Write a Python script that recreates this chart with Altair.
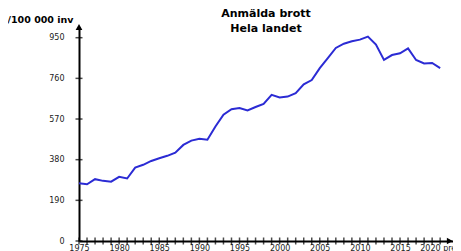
import altair as alt
import pandas as pd

years = list(range(1975, 2021))
values = [270, 265, 289, 281, 277, 300, 292, 343, 356, 374,
          387, 398, 413, 449, 469, 478, 473, 535, 590, 616,
          621, 610, 626, 641, 683, 671, 675, 691, 732, 752,
          808, 855, 902, 922, 933, 941, 955, 918, 846, 869,
          877, 900, 846, 830, 832, 808]
y_tick_values = [0, 190, 380, 570, 760, 950]
x_label_values = [1975, 1980, 1985, 1990, 1995, 2000, 2005, 2010, 2015, 2020]
x_tick_values = list(range(1975, 2021))
title_lines = ["Anmälda brott", "Hela landet"]
y_title = "/100 000 inv"
last_label = "2020 prel."

X_DOMAIN = [1975, 2021.6]
ARROW_X = 2021.2
Y_DOMAIN = [0, 1000]
FONT = "DejaVu Sans"

df = pd.DataFrame({"year": years, "value": values})
xt = pd.DataFrame({"year": x_tick_values, "value": [Y_DOMAIN[0]] * len(x_tick_values)})
yt = pd.DataFrame({"year": [X_DOMAIN[0]] * len(y_tick_values), "value": y_tick_values})
ax_df = pd.DataFrame({"year": [ARROW_X], "value": [Y_DOMAIN[0]]})
ay_df = pd.DataFrame({"year": [X_DOMAIN[0]], "value": [Y_DOMAIN[1]]})

xscale = alt.Scale(domain=X_DOMAIN, nice=False, zero=False)
yscale = alt.Scale(domain=Y_DOMAIN, nice=False)

xaxis = alt.Axis(
    values=x_label_values, ticks=False, domain=True, domainColor="black",
    domainWidth=2, grid=False, labelFontSize=8, labelFont=FONT, format="d",
    labelColor="#222", labelPadding=3, title=None, labelFlush=False,
    labelExpr=f"datum.value == 2020 ? '{last_label}' : datum.label",
    labelOverlap=False)
yaxis = alt.Axis(
    values=y_tick_values, ticks=False, domain=True, domainColor="black",
    domainWidth=2, grid=False, labelFontSize=8, labelFont=FONT,
    labelColor="#222", labelPadding=15, title=y_title, titleAngle=0,
    titleFont=FONT, titleFontSize=9.5, titleFontWeight="bold",
    titleAlign="right", titleBaseline="middle", titleX=-6, titleY=-8,
    titleColor="black")


def enc(ch):
    return ch.encode(
        x=alt.X("year:Q", scale=xscale, axis=xaxis),
        y=alt.Y("value:Q", scale=yscale, axis=yaxis),
    )


line = enc(alt.Chart(df).mark_line(color="#2b2bd4", strokeWidth=2))
xticks = enc(alt.Chart(xt).mark_tick(orient="vertical", size=7,
                                     thickness=1.5, color="black"))
yticks = enc(alt.Chart(yt).mark_tick(orient="horizontal", size=7,
                                     thickness=1.5, color="black"))
arrow_x = enc(alt.Chart(ax_df).mark_point(shape="triangle-right", filled=True,
                                          color="black", size=45, opacity=1))
arrow_y = enc(alt.Chart(ay_df).mark_point(shape="triangle-up", filled=True,
                                          color="black", size=45, opacity=1))

chart = alt.layer(line, xticks, yticks, arrow_x, arrow_y).properties(
    width=374, height=214,
    autosize=alt.AutoSizeParams(type="none"),
    padding={"left": 71, "top": 19, "right": 0, "bottom": 10},
    title=alt.TitleParams(text=title_lines, font=FONT, fontSize=11,
                          fontWeight="bold", color="black", anchor="middle",
                          dx=0, offset=0, dy=20, lineHeight=15),
).configure_view(stroke=None)

chart.save("out.html", embed_options={"renderer": "svg", "actions": False})
